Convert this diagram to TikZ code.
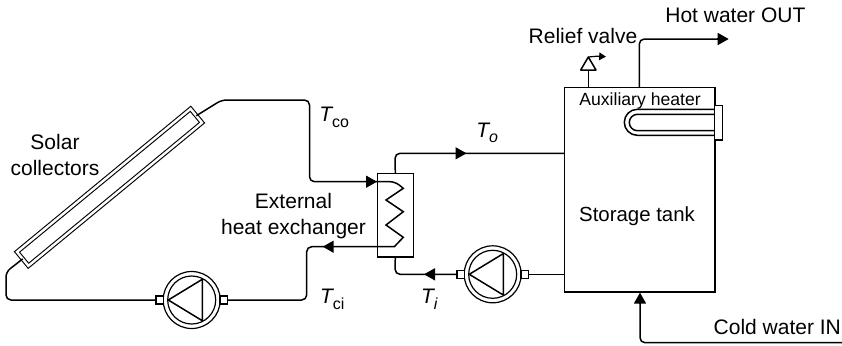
\documentclass[tikz,border=0pt]{standalone}
\usepackage{fontspec}
\setmainfont{Liberation Sans}
\usetikzlibrary{arrows.meta,positioning,calc}
\newcommand{\tempsub}[2]{\textit{T}\kern-0.7pt\raisebox{-#2}{\fontsize{8}{8}\selectfont #1}}
\tikzset{
    pipe/.style={line width=0.75pt, rounded corners=2.5pt},
    flowtip/.style={-{Triangle[length=5.5pt,width=6pt]}, line width=0.75pt},
    smalltip/.style={-{Triangle[length=3.4pt,width=3.8pt]}, line width=0.6pt},
    ring/.style={circle, draw, line width=0.6pt, minimum size=#1, inner sep=0pt, outer sep=0pt},
    stub/.style={draw, line width=0.7pt, fill=white, minimum width=3.7pt, minimum height=4pt, inner sep=0pt, outer sep=0pt},
    box/.style={draw, line width=0.8pt, fill=white, inner sep=0pt, outer sep=0pt},
    lab/.style={inner sep=0pt, align=center, font=\fontsize{10.5}{12.7}\selectfont},
}
\begin{document}
\begin{tikzpicture}[x=0.5pt, y=-0.5pt]
    \useasboundingbox (0,0) rectangle (842,345);

    % Coordinates
    \coordinate (toptank) at (564.3,153.3);
    \coordinate (bottank) at (564.3,274.3);
    \coordinate (coldin) at (640,292.6);
    \coordinate (coldend) at (842,342.7);
    \coordinate (hotstart) at (639.3,87.3);
    \coordinate (hotend) at (728.7,39);
    \coordinate (reliefstart) at (588.3,87.3);

    % Collector, tank
    \node[draw, double, line width=0.55pt, double distance=1.2pt, minimum width=112.5pt, minimum height=9pt, inner sep=0pt, outer sep=0pt, rotate=39.5] (collector) at (109.5,187.3) {};
    \node[box, minimum width=75.2pt, minimum height=102.4pt] (tank) at (639.5,189.8) {};
    \node[box, minimum width=18pt, minimum height=41.7pt] (exchanger) at (395.3,215) {};

    % Pumps
    \foreach \x/\y/\name in {191.7/300/pumpsolar, 492.7/274.3/pumptank} {
        \node[ring=28.5pt] (\name) at (\x,\y) {};
        \node[ring=24pt] at (\name) {};
        \draw[line width=0.75pt, line join=round] (\x-23.4,\y) -- (\x+10.6,\y-20.7) -- (\x+10.6,\y+20.7) -- cycle;
        \node[stub] (\name-l) at (\x-32,\y) {};
        \node[stub] (\name-r) at (\x+32,\y) {};
    }

    % Collector loop
    \draw[pipe] (collector.east) -- (221.7,100) -- (309.5,100) -- (309.5,181.7) -- (395,181.7)
        [sharp corners] -- (403.3,188.3) -- (386,200) -- (403.3,211.7) -- (386,225) -- (403.3,237.3) -- (394.3,246.7)
        [rounded corners=2.5pt] -- (306.7,246.7) -- (306.7,300) -- (pumpsolar-r.east);
    \draw[pipe] (pumpsolar-l.west) -- (6,300) -- (6,272) -- (collector.west);
    \draw[flowtip] (366,181.7) -- (377,181.7);
    \draw[flowtip] (333.5,246.7) -- (322.7,246.7);

    % Tank loop
    \draw[pipe] (exchanger.north) -- (395,153.3) -- (toptank);
    \draw[flowtip] (455.5,153.3) -- (466.5,153.3);
    \draw[pipe] (exchanger.south) -- (395,274.3) -- (pumptank-l.west);
    \draw[flowtip] (434.5,274.3) -- (424,274.3);
    \draw[pipe] (pumptank-r.east) -- (bottank);

    % Water in and out
    \draw[pipe] (coldend) -- (640,342.7) -- (640,304);
    \draw[flowtip] (640,304) -- (coldin);
    \draw[pipe] (hotstart) -- (639.3,39) -- (717,39);
    \draw[flowtip] (717,39) -- (hotend);

    % Relief valve
    \draw[line width=0.75pt] (reliefstart) -- (588.3,70);
    \draw[line width=0.75pt, line join=round] (580.7,70) -- (596,70) -- (588.3,57) -- cycle;
    \draw[smalltip] (588.3,57) -- (597,56.2) -- (606,56.7);

    % Heater
    \draw[line width=0.75pt] (714.7,109.3) -- (637.3,109.3) arc[start angle=270, end angle=90, radius=13] -- (714.7,135.3);
    \draw[line width=0.75pt] (714.7,114.3) -- (637.5,114.3) arc[start angle=270, end angle=90, radius=8.2] -- (714.7,130.7);
    \node[stub, minimum width=3.8pt, minimum height=17.2pt] (flange) at (718.5,122.8) {};

    % Labels
    \node[lab] (solarlab) at (55,155) {Solar\\collectors};
    \node[lab] (exchangerlab) at (293.5,216) {External\\heat exchanger};
    \node[lab, anchor=base, font=\fontsize{10.2}{12}\selectfont] (tanklab) at (637,221) {Storage tank};
    \node[lab, anchor=base west] (hotlab) at (665,22.7) {Hot water OUT};
    \node[lab, anchor=base west] (relieflab) at (528.3,43.3) {Relief valve};
    \node[lab, anchor=base west] (coldlab) at (713.3,334.3) {Cold water IN};
    \node[lab, anchor=base west, font=\fontsize{8.8}{10}\selectfont] (heaterlab) at (579,105) {Auxiliary heater};
    \node[lab, anchor=base west] (tco) at (319,121.7) {\tempsub{co}{3.1pt}};
    \node[lab, anchor=base west] (to) at (476,137.3) {\tempsub{\textit{o}}{2.7pt}};
    \node[lab, anchor=base west] (tci) at (319.7,303.3) {\tempsub{ci}{3.1pt}};
    \node[lab, anchor=base west] (ti) at (420.7,303) {\tempsub{\textit{i}}{3.1pt}};
\end{tikzpicture}
\end{document}
